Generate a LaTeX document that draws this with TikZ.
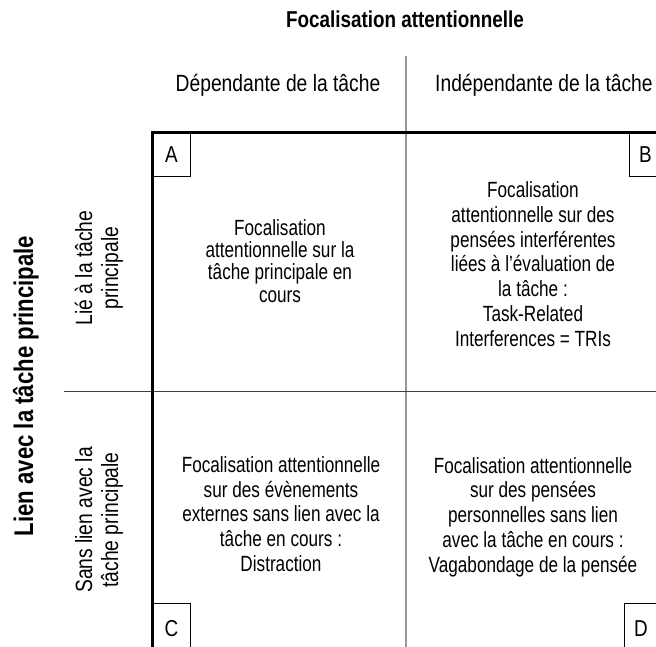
\documentclass[tikz,border=0pt]{standalone}
\usepackage{fontspec}
\setmainfont{Liberation Sans}[FakeStretch=0.82]
\newfontfamily\cellfont{Liberation Sans}[FakeStretch=0.78]
\begin{document}
\begin{tikzpicture}[x=1pt,y=-1pt,
  celltext/.style={align=center,inner sep=0pt,font=\cellfont\fontsize{22}{22.2}\selectfont},
  celltextb/.style={align=center,inner sep=0pt,font=\cellfont\fontsize{22}{24.8}\selectfont},
  colhead/.style={inner sep=0pt,font=\fontsize{23.5}{26}\selectfont},
  rowhead/.style={align=center,inner sep=0pt,rotate=90,font=\fontsize{23.5}{26}\selectfont},
  corner/.style={draw=black,line width=0.9pt,minimum width=38pt,minimum height=44pt,inner sep=0pt,font=\fontsize{23}{26}\selectfont},
  frame/.style={line width=3pt,line join=miter},
  vsep/.style={draw=black!40,line width=1.4pt},
  hsep/.style={draw=black!75,line width=0.9pt}]
\clip (0,0) rectangle (656,646);
\fill[white] (0,0) rectangle (656,646);
% separators
\draw[vsep] (406,56) -- (406,660);
\draw[hsep] (64,391) -- (660,391);
% frame
\draw[frame] (670,132) -- (152,132) -- (152,660);
% corner boxes
\node[corner,anchor=north west] (cA) at (152,132) {A};
\node[corner,anchor=north west] (cB) at (629,132) {\hspace*{-6pt}B};
\node[corner,anchor=north west,minimum height=50pt] (cC) at (152,603) {\raisebox{-3pt}{C}};
\node[corner,anchor=north west,minimum height=50pt] (cD) at (624,603) {\raisebox{-3pt}{\hspace*{-5pt}D}};
% titles
\node[inner sep=0pt,anchor=base,font=\bfseries\fontsize{23}{26}\selectfont] (top) at (405,27) {Focalisation attentionnelle};
\node[colhead,anchor=base] (h1) at (278,91.7) {Dépendante de la tâche};
\node[colhead,anchor=base west] (h2) at (435,91.7) {Indépendante de la tâche};
\node[inner sep=0pt,anchor=base,rotate=90,font=\bfseries\fontsize{27}{30}\selectfont] (side) at (33,386) {Lien avec la tâche principale};
\node[rowhead] (r1) at (99,268) {Lié à la tâche\\principale};
\node[rowhead] (r2) at (99,520) {Sans lien avec la\\tâche principale};
% cells
\node[celltext] (tA) at (280,261) {Focalisation\\attentionnelle sur la\\tâche principale en\\cours};
\node[celltextb] (tB) at (533,264) {Focalisation\\attentionnelle sur des\\pensées interférentes\\liées à l’évaluation de\\la tâche :\\Task-Related\\Interferences = TRIs};
\node[celltextb] (tC) at (281,514) {Focalisation attentionnelle\\sur des évènements\\externes sans lien avec la\\tâche en cours :\\Distraction};
\node[celltextb] (tD) at (533,517) {Focalisation attentionnelle\\sur des pensées\\personnelles sans lien\\avec la tâche en cours :\\Vagabondage de la pensée};
\end{tikzpicture}
\end{document}
